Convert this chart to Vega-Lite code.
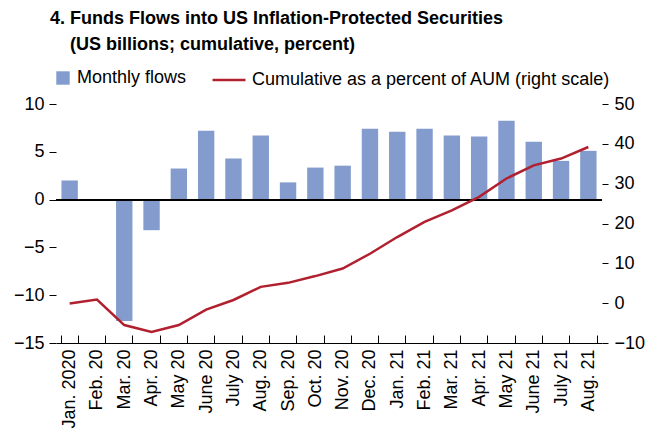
{
  "$schema": "https://vega.github.io/schema/vega-lite/v6.json",
  "width": 546,
  "height": 239,
  "autosize": {"type": "none"},
  "padding": {"left": 56, "top": 104, "right": 58, "bottom": 92},
  "background": "white",
  "title": {
    "text": ["4. Funds Flows into US Inflation-Protected Securities", "\u200b\u00a0\u00a0\u00a0\u00a0(US billions; cumulative, percent)"],
    "anchor": "start",
    "frame": "group",
    "font": "Liberation Sans",
    "fontSize": 18,
    "fontWeight": "bold",
    "color": "black",
    "dx": -6,
    "offset": 8,
    "lineHeight": 26
  },
  "config": {
    "view": {"stroke": null},
    "font": "Liberation Sans",
    "axis": {
      "labelFont": "Liberation Sans",
      "labelFontSize": 18,
      "labelColor": "black",
      "tickColor": "black",
      "domainColor": "black",
      "grid": false,
      "title": null
    },
    "legend": {
      "labelFont": "Liberation Sans",
      "labelFontSize": 18,
      "labelColor": "black",
      "labelLimit": 0,
      "title": null,
      "padding": 0
    }
  },
  "data": {
    "values": [
      {"month": "Jan. 2020", "flows": 2.0, "cum": -0.1},
      {"month": "Feb. 20", "flows": 0.0, "cum": 0.9},
      {"month": "Mar. 20", "flows": -12.7, "cum": -5.5},
      {"month": "Apr. 20", "flows": -3.2, "cum": -7.2},
      {"month": "May 20", "flows": 3.25, "cum": -5.5},
      {"month": "June 20", "flows": 7.2, "cum": -1.6},
      {"month": "July 20", "flows": 4.3, "cum": 0.8},
      {"month": "Aug. 20", "flows": 6.7, "cum": 4.1},
      {"month": "Sep. 20", "flows": 1.8, "cum": 5.1},
      {"month": "Oct. 20", "flows": 3.35, "cum": 6.8},
      {"month": "Nov. 20", "flows": 3.55, "cum": 8.7},
      {"month": "Dec. 20", "flows": 7.4, "cum": 12.4},
      {"month": "Jan. 21", "flows": 7.1, "cum": 16.6},
      {"month": "Feb. 21", "flows": 7.4, "cum": 20.4},
      {"month": "Mar. 21", "flows": 6.7, "cum": 23.3},
      {"month": "Apr. 21", "flows": 6.6, "cum": 26.7},
      {"month": "May 21", "flows": 8.25, "cum": 31.3},
      {"month": "June 21", "flows": 6.05, "cum": 34.6},
      {"month": "July 21", "flows": 4.05, "cum": 36.3},
      {"month": "Aug. 21", "flows": 5.1, "cum": 39.2}
    ]
  },
  "layer": [
    {
      "layer": [
        {
          "mark": {"type": "bar"},
          "encoding": {
            "x": {
              "field": "month",
              "type": "ordinal",
              "sort": null,
              "scale": {"paddingInner": 0.4, "paddingOuter": 0.2},
              "axis": {
                "orient": "bottom",
                "labelAngle": -90,
                "tickBand": "extent",
                "tickSize": -8,
                "labelPadding": 14,
                "domainColor": "black",
                "domainWidth": 1.2
              }
            },
            "y": {
              "field": "flows",
              "type": "quantitative",
              "stack": null,
              "scale": {"domain": [-15, 10], "nice": false},
              "axis": {
                "orient": "left",
                "values": [-15, -10, -5, 0, 5, 10],
                "domain": false,
                "tickSize": 7,
                "labelPadding": 5
              }
            },
            "fill": {
              "datum": "Monthly flows",
              "scale": {"range": ["#839bcd"]},
              "legend": {
                "orient": "none",
                "legendX": -2,
                "legendY": -35,
                "symbolType": "square",
                "symbolSize": 180,
                "symbolStrokeWidth": 0,
                "symbolOpacity": 1,
                "labelOffset": 5
              }
            }
          }
        },
        {
          "mark": {"type": "rule", "color": "black", "strokeWidth": 1.2},
          "encoding": {"y": {"datum": 0}}
        }
      ]
    },
    {
      "mark": {"type": "line", "strokeWidth": 2.5},
      "encoding": {
        "x": {"field": "month", "type": "ordinal", "sort": null},
        "y": {
          "field": "cum",
          "type": "quantitative",
          "scale": {"domain": [-10, 50], "nice": false},
          "axis": {
            "orient": "right",
            "values": [-10, 0, 10, 20, 30, 40, 50],
            "domain": false,
            "tickSize": 6,
            "labelPadding": 6
          }
        },
        "stroke": {
          "datum": "Cumulative as a percent of AUM (right scale)",
          "scale": {"range": ["#b1202f"]},
          "legend": {
            "orient": "none",
            "legendX": 155,
            "legendY": -42,
            "symbolType": "stroke",
            "symbolSize": 1089,
            "symbolStrokeWidth": 2.5,
            "labelOffset": 5
          }
        }
      }
    }
  ],
  "resolve": {"scale": {"y": "independent"}}
}
